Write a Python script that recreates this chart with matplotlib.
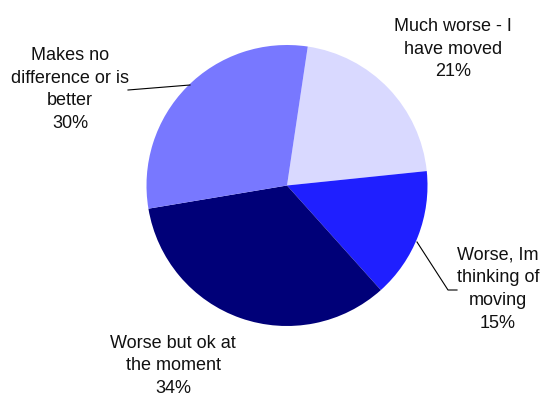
import matplotlib.pyplot as plt

# survey answers, clockwise from the top
labels = ['Much worse - I\nhave moved', 'Worse, Im\nthinking of\nmoving',
          'Worse but ok at\nthe moment', 'Makes no\ndifference or is\nbetter']
shares = [21, 15, 34, 30]
colors = ['#D9D9FF', '#1F1FFF', '#000078', '#7878FF']

# label centres in pixel space (y from top)
label_pos = [(453, 49), (498, 289), (173, 366), (70, 89.5)]

plt.rcParams['font.family'] = ['Liberation Sans', 'DejaVu Sans']

fig = plt.figure(figsize=(5.47, 4.02), dpi=100)
ax = fig.add_axes([0, 0, 1, 1])

H = 402
ax.pie(shares, colors=colors, startangle=81.5, counterclock=False,
       center=(287, H - 186.5), radius=140.5,
       wedgeprops=dict(linewidth=0))

# pie() rescales the axes, so fix the pixel frame afterwards
ax.set_xlim(0, 547)
ax.set_ylim(0, 402)
ax.set_aspect('equal')
ax.axis('off')

for lab, val, (x, y) in zip(labels, shares, label_pos):
    ax.text(x, H - y, f'{lab}\n{val}%', ha='center', va='center',
            fontsize=13, linespacing=1.45, color='#111111')

# leader lines
ax.plot([128, 190], [H - 91, H - 86], color='black', lw=0.8)
ax.plot([417, 448, 457], [H - 243, H - 291, H - 291], color='black', lw=0.8)

fig.savefig('out.png', dpi=100)
